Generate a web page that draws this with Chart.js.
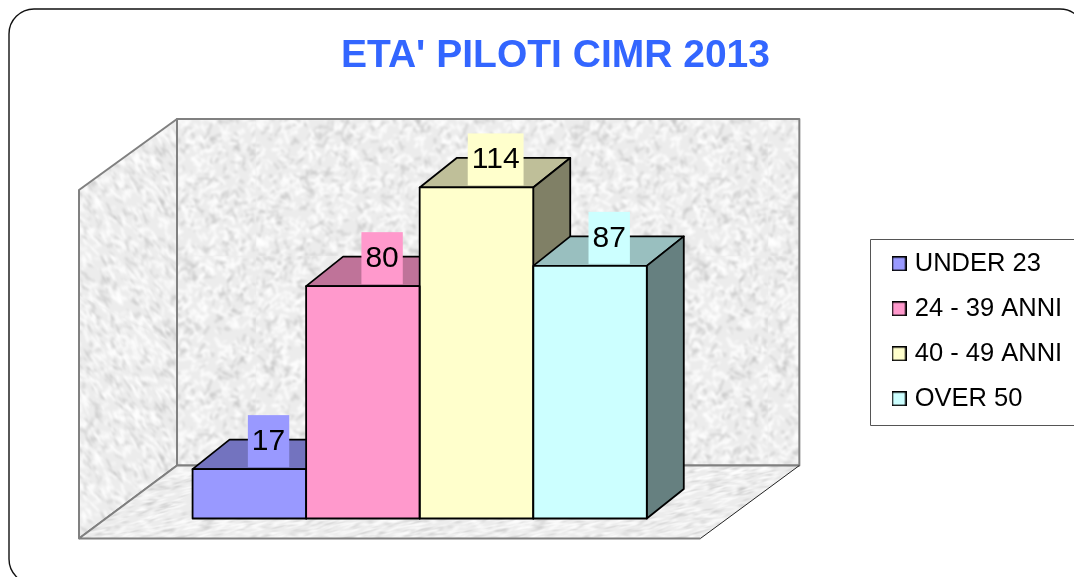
<!DOCTYPE html>
<html>
<head>
<meta charset="utf-8">
<style>
html,body{margin:0;padding:0;background:#fff;overflow:hidden}
#wrap{position:relative;width:1074px;height:577px}
canvas{display:block}
</style>
<script src="https://cdn.jsdelivr.net/npm/chart.js@4"></script>
</head>
<body>
<div id="wrap"><canvas id="c" width="1074" height="577"></canvas></div>
<script>
const chartTitle = "ETA' PILOTI CIMR 2013";
const categories = ["2013"];
const seriesNames = ["UNDER 23", "24 - 39 ANNI", "40 - 49 ANNI", "OVER 50"];
const seriesValues = [17, 80, 114, 87];
const frontColors = ["#9999FF", "#FF99CC", "#FFFFCC", "#CCFFFF"];
const topColors = ["#7373BF", "#BF7399", "#BFBF99", "#99BFBF"];
const sideColors = ["#4D4D80", "#804D66", "#808066", "#668080"];
const axisMax = 120;

const FONT = '"Liberation Sans", Arial, sans-serif';
const DX = 37, DY = -29.5;

// Deterministic mottled stone texture for the walls
function hash(i) { const s = Math.sin(i * 127.1 + 311.7) * 43758.5453; return s - Math.floor(s); }
function makeTexture() {
  const S = 256;
  const raw = document.createElement('canvas'); raw.width = raw.height = S;
  const r = raw.getContext('2d');
  r.fillStyle = '#ececec'; r.fillRect(0, 0, S, S);
  r.lineCap = 'round';
  for (let i = 0; i < 2400; i++) {
    const x = hash(i) * S, y = hash(i + 5000) * S, a = hash(i + 9000) * Math.PI * 2;
    const len = 2 + hash(i + 13000) * 7, dark = hash(i + 17000) < 0.36;
    r.strokeStyle = dark ? 'rgba(190,190,190,0.42)' : 'rgba(255,255,255,0.7)';
    r.lineWidth = 1.2 + hash(i + 21000) * 2.6;
    for (const ox of [-S, 0, S]) for (const oy of [-S, 0, S]) {
      r.beginPath();
      r.moveTo(x + ox, y + oy);
      r.lineTo(x + ox + Math.cos(a) * len, y + oy + Math.sin(a) * len);
      r.stroke();
    }
  }
  const out = document.createElement('canvas'); out.width = out.height = S;
  const o = out.getContext('2d');
  o.fillStyle = '#ececec'; o.fillRect(0, 0, S, S);
  o.filter = 'blur(1.2px)';
  o.drawImage(raw, 0, 0);
  o.filter = 'none';
  return out;
}

function makeSwatch(color) {
  const cv = document.createElement('canvas'); cv.width = cv.height = 15;
  const x = cv.getContext('2d');
  x.fillStyle = color; x.fillRect(0, 0, 15, 15);
  x.strokeStyle = '#000'; x.lineWidth = 1.5; x.strokeRect(0.75, 0.75, 13.5, 13.5);
  return cv;
}
const swatches = frontColors.map(makeSwatch);

function poly(ctx, pts, fill, stroke, lw) {
  ctx.beginPath();
  pts.forEach((p, i) => i ? ctx.lineTo(p[0], p[1]) : ctx.moveTo(p[0], p[1]));
  ctx.closePath();
  if (fill) { ctx.fillStyle = fill; ctx.fill(); }
  if (stroke) { ctx.strokeStyle = stroke; ctx.lineWidth = lw; ctx.lineJoin = 'round'; ctx.stroke(); }
}

const tex = makeTexture();

const scene3d = {
  id: 'scene3d',
  beforeLayout(chart) {
    chart.legend.afterFit = function () { this.width = 204; };
  },
  afterLayout(chart) {
    const t = chart.titleBlock; t.left = 0; t.right = 1111;
    const l = chart.legend;
    l.left = 876.5; l.right = 1080.5; l.top = 231.5; l.bottom = 470;
  },
  beforeDraw(chart) {
    const ctx = chart.ctx;
    ctx.save();
    ctx.fillStyle = '#fff'; ctx.fillRect(0, 0, 1074, 577);
    ctx.beginPath(); ctx.roundRect(9, 9, 1076, 575, 25);
    ctx.strokeStyle = '#111'; ctx.lineWidth = 1.4; ctx.stroke();
    ctx.beginPath(); ctx.rect(870.5, 239.5, 210, 186);
    ctx.strokeStyle = '#555'; ctx.lineWidth = 1; ctx.stroke();
    ctx.restore();
  },
  beforeDatasetsDraw(chart) {
    const ctx = chart.ctx, a = chart.chartArea;
    const fx0 = a.left - 30, fx1 = a.right - 30, fyB = a.bottom + 20, fyT = a.top + 20;
    const bx0 = a.left + 68, bx1 = a.right + 69, byB = a.bottom - 53, byT = a.top - 51;
    const pat = ctx.createPattern(tex, 'repeat');
    const patL = ctx.createPattern(tex, 'repeat');
    patL.setTransform(new DOMMatrix([1, 0.5, 0, 1, 0, 0]));
    const patF = ctx.createPattern(tex, 'repeat');
    patF.setTransform(new DOMMatrix([1.3, 0, -0.9, 0.55, 0, 0]));
    ctx.save();
    poly(ctx, [[bx0, byT], [bx1, byT], [bx1, byB], [bx0, byB]], pat, '#808080', 2);
    poly(ctx, [[fx0, fyT], [bx0, byT], [bx0, byB], [fx0, fyB]], patL, '#808080', 2);
    poly(ctx, [[fx0, fyB], [bx0, byB], [bx1, byB], [fx1, fyB]], patF);
    ctx.beginPath(); ctx.moveTo(fx0, fyB); ctx.lineTo(bx0, byB); ctx.lineTo(bx1, byB);
    ctx.moveTo(fx0, fyB); ctx.lineTo(fx1, fyB);
    ctx.strokeStyle = '#808080'; ctx.lineWidth = 2; ctx.stroke();
    ctx.beginPath(); ctx.moveTo(fx1, fyB); ctx.lineTo(bx1, byB);
    ctx.strokeStyle = '#222'; ctx.lineWidth = 1; ctx.stroke();
    chart.data.datasets.forEach((ds, i) => {
      const b = chart.getDatasetMeta(i).data[0];
      const L = b.x - b.width / 2, R = b.x + b.width / 2, T = b.y, B = b.base;
      poly(ctx, [[L, T], [L + DX, T + DY], [R + DX, T + DY], [R, T]], topColors[i], '#000', 1.8);
      poly(ctx, [[R, T], [R + DX, T + DY], [R + DX, B + DY], [R, B]], sideColors[i], '#000', 1.8);
    });
    ctx.restore();
  },
  afterDatasetsDraw(chart) {
    const ctx = chart.ctx;
    ctx.save();
    chart.data.datasets.forEach((ds, i) => {
      const b = chart.getDatasetMeta(i).data[0];
      const L = b.x - b.width / 2, R = b.x + b.width / 2;
      poly(ctx, [[L, b.y], [R, b.y], [R, b.base], [L, b.base]], null, '#000', 1.8);
    });
    ctx.font = '30px ' + FONT;
    ctx.textAlign = 'center'; ctx.textBaseline = 'middle';
    chart.data.datasets.forEach((ds, i) => {
      const b = chart.getDatasetMeta(i).data[0];
      const txt = String(ds.data[0]);
      const w = ctx.measureText(txt).width + 8;
      const cx = b.x + DX / 2 + 0.7;
      ctx.fillStyle = frontColors[i];
      ctx.fillRect(cx - w / 2, b.y - 54, w, 52);
      ctx.fillStyle = '#000';
      ctx.fillText(txt, cx, b.y - 27.5);
    });
    ctx.restore();
  }
};

new Chart(document.getElementById('c'), {
  type: 'bar',
  data: {
    labels: categories,
    datasets: seriesNames.map((name, i) => ({
      label: name,
      data: [seriesValues[i]],
      backgroundColor: frontColors[i],
      borderColor: '#000',
      borderWidth: 0,
      borderSkipped: false,
      categoryPercentage: 0.731,
      barPercentage: 1
    }))
  },
  options: {
    responsive: false,
    animation: false,
    devicePixelRatio: 1,
    layout: { padding: { left: 109, right: 148, top: 0, bottom: 58.5 } },
    scales: {
      x: { display: false, grid: { display: false } },
      y: { display: false, min: 0, max: axisMax, grid: { display: false } }
    },
    plugins: {
      tooltip: { enabled: false },
      title: {
        display: true,
        text: chartTitle,
        color: '#3366FF',
        font: { family: FONT, size: 39, weight: 'bold' },
        padding: { top: 32.5, bottom: 90.7 }
      },
      legend: {
        display: true,
        position: 'right',
        align: 'start',
        labels: {
          color: '#000',
          font: { family: FONT, size: 25.5 },
          usePointStyle: true,
          pointStyleWidth: 6,
          boxHeight: 15,
          padding: 19.5,
          generateLabels: () => seriesNames.map((name, i) => ({
            text: name,
            fillStyle: frontColors[i],
            strokeStyle: '#000',
            lineWidth: 1.5,
            pointStyle: swatches[i],
            datasetIndex: i,
            hidden: false
          }))
        }
      }
    }
  },
  plugins: [scene3d]
});
</script>
</body>
</html>
